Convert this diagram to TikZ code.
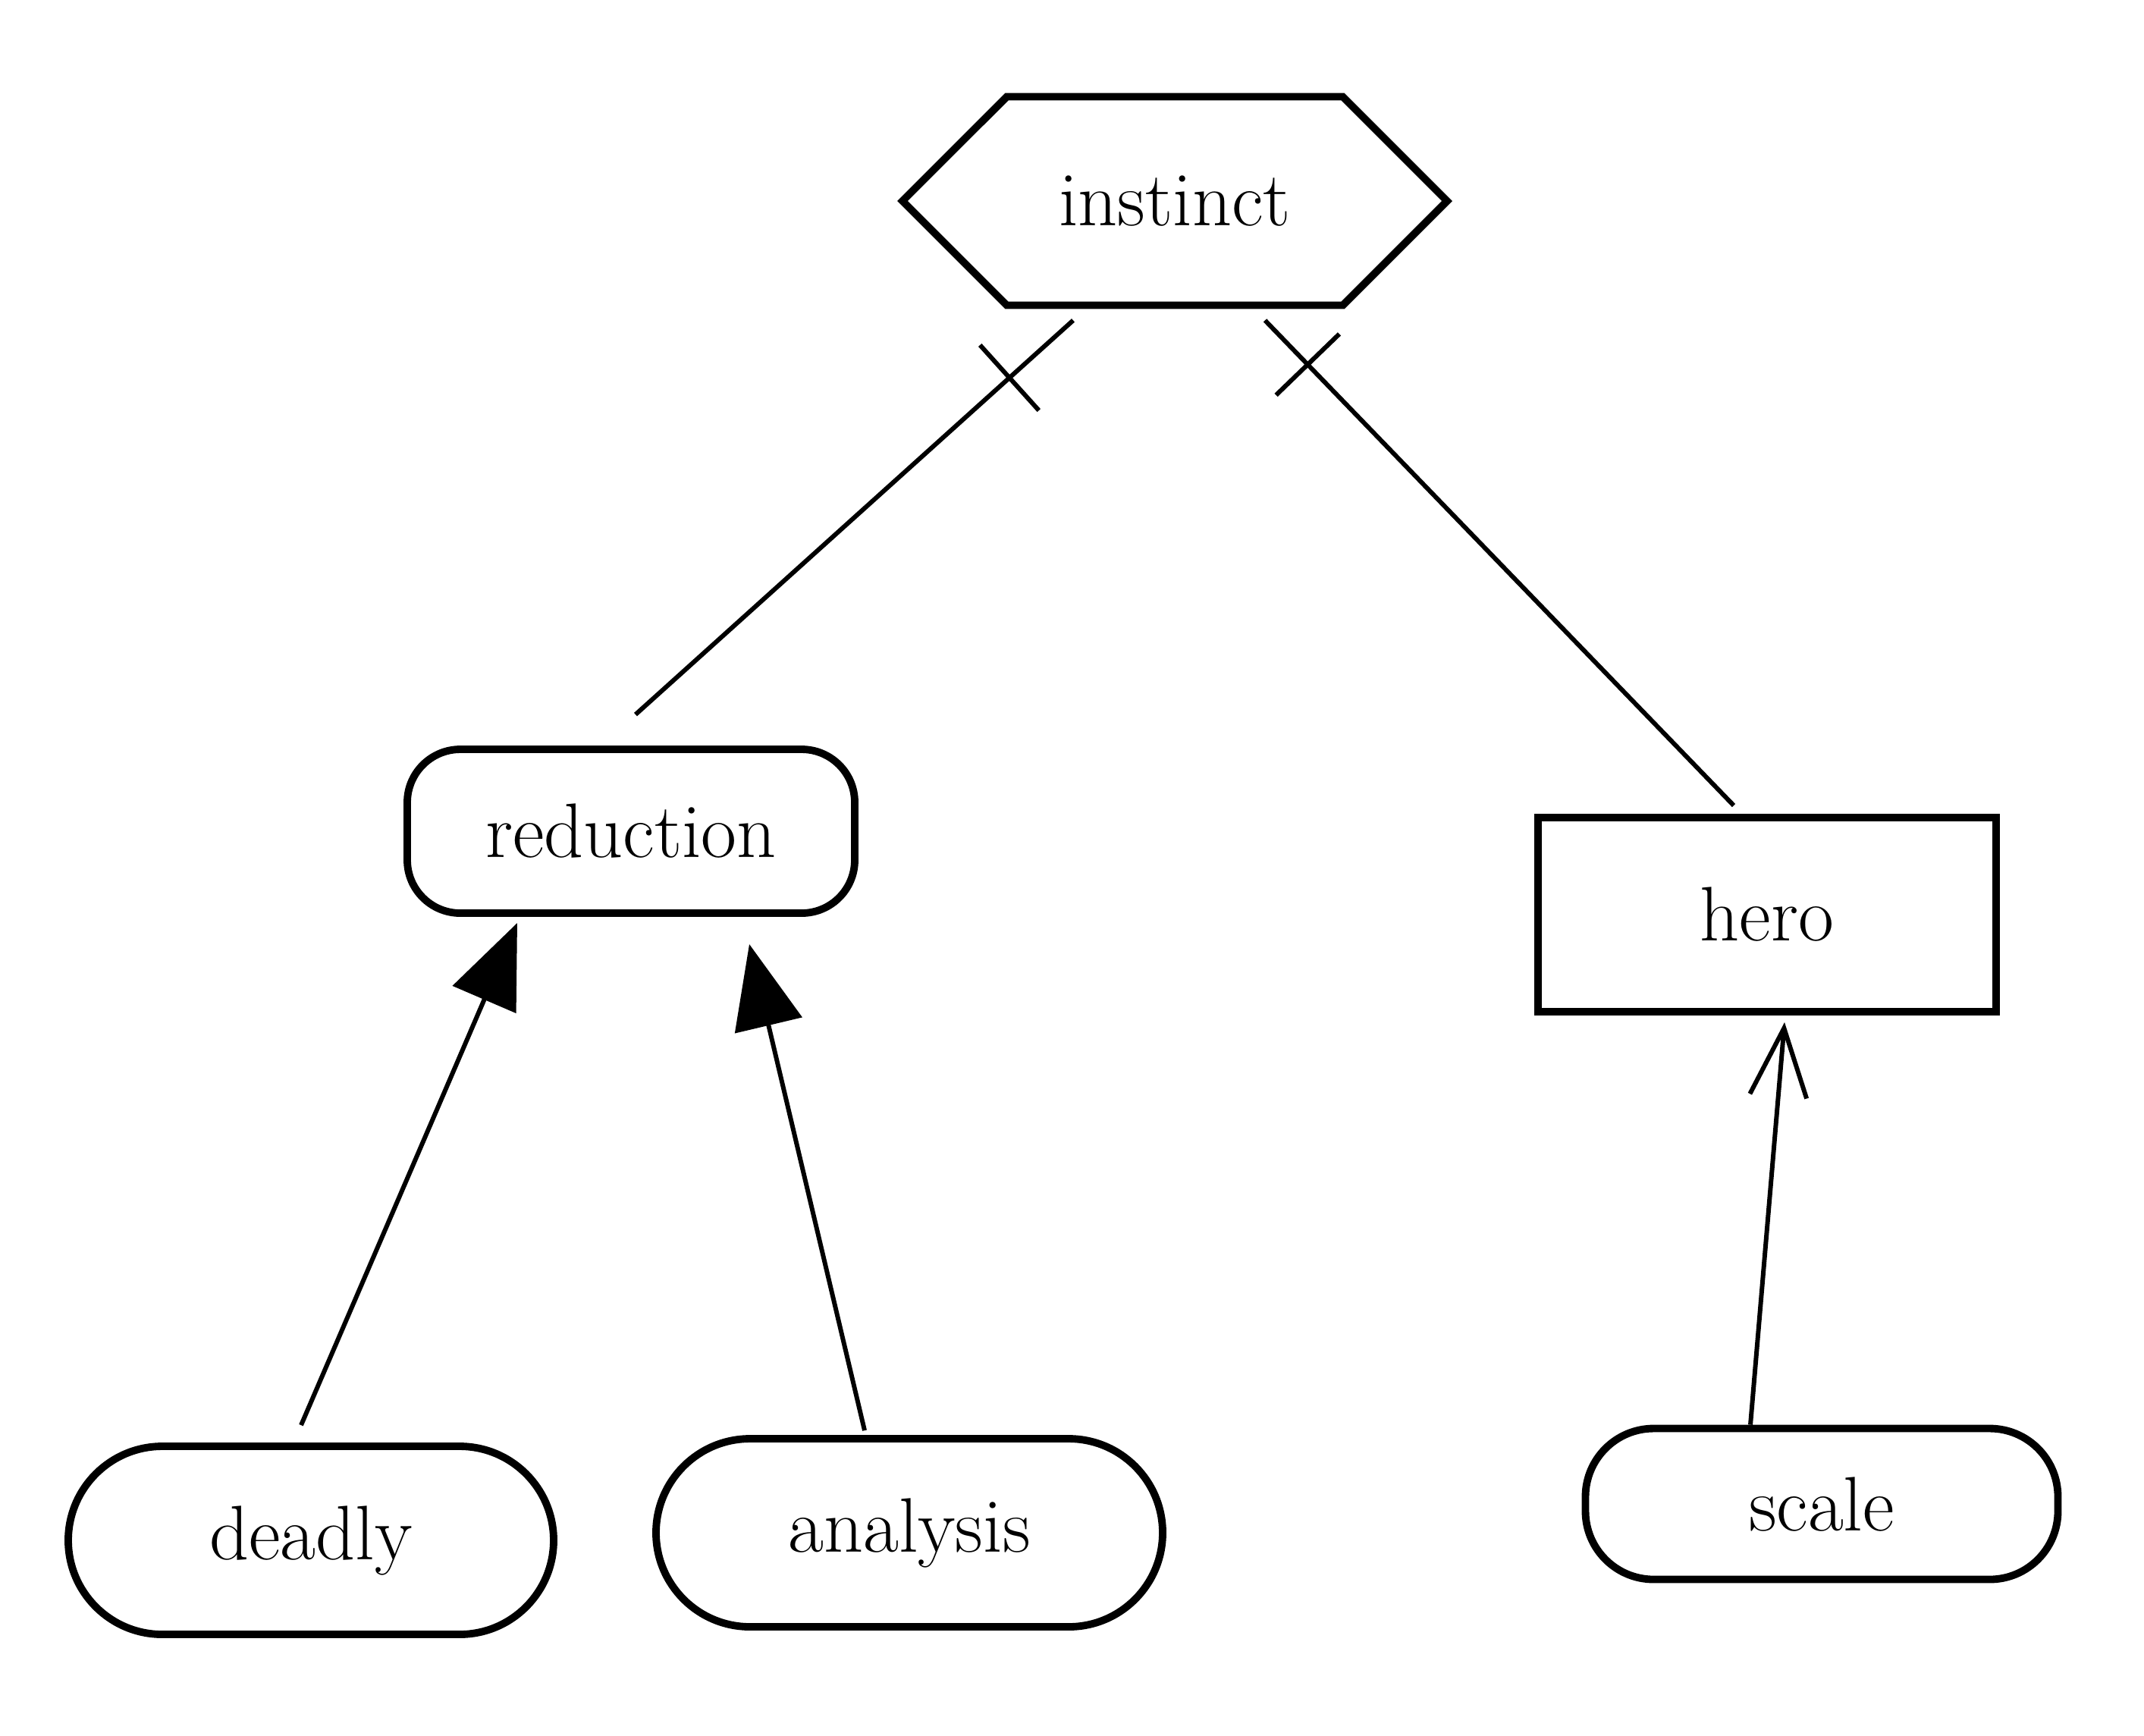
\documentclass[tikz,border=0pt]{standalone}
\usetikzlibrary{shapes.symbols,shapes.misc,arrows.meta,decorations.markings}

\tikzset{
    begriff/.style={font=\fontsize{29}{35}\selectfont, draw, line width=2.8pt, inner sep=0pt},
    hexa/.style={begriff, signal, signal to=west and east, signal pointer angle=90, minimum width=7.18cm, minimum height=2.75cm},
    blob/.style={begriff, rectangle, rounded corners=0.7cm, minimum width=5.9cm, minimum height=2.16cm},
    kasten/.style={begriff, rectangle, minimum width=6.04cm, minimum height=2.56cm},
    pille/.style={begriff, rounded rectangle, minimum width=6.5cm, minimum height=2.48cm},
    linie/.style={line width=1.7pt},
    quer/.style={linie, postaction={decorate, decoration={markings, mark=at position #1 with {\draw[linie] (0,-0.58) -- (0,0.58);}}}},
    erbt/.style={linie, -{Triangle[length=1.1cm,width=0.9cm]}},
    pfeil/.style={linie, -{Straight Barb[length=0.9cm,width=0.75cm]}}
}

\begin{document}
\begin{tikzpicture}
    \useasboundingbox (0,0) rectangle (28.27,-22.88);
    \path node[hexa] (instinct) at (15.49,-2.65) {instinct}
        node[blob] (reduction) at (8.32,-10.96) {reduction}
        node[kasten] (hero) at (23.30,-12.06) {hero}
        node[pille, minimum width=6.4cm] (deadly) at (4.10,-20.31) {deadly}
        node[pille, minimum width=6.68cm] (analysis) at (11.99,-20.21) {analysis}
        node[blob, rounded corners=0.9cm, minimum width=6.23cm, minimum height=1.99cm] (scale) at (24.02,-19.83) {scale};
    \draw[quer=-1.13cm] ([xshift=0.6mm,yshift=4.1mm]reduction.north) -- ([xshift=-13.4mm,yshift=-1.5mm]instinct.south);
    \draw[quer=-0.81cm] ([xshift=-4.4mm,yshift=1.1mm]hero.north) -- ([xshift=11.9mm,yshift=-1.5mm]instinct.south);
    \draw[erbt] ([xshift=-1.3mm,yshift=2.3mm]deadly.north) -- ([xshift=-15mm,yshift=-0.8mm]reduction.south);
    \draw[erbt] ([xshift=-5.9mm,yshift=0.6mm]analysis.north) -- ([xshift=15.6mm,yshift=-3.6mm]reduction.south);
    \draw[pfeil] ([xshift=-9.4mm]scale.north) -- ([xshift=2.3mm,yshift=-0.9mm]hero.south);
\end{tikzpicture}
\end{document}
